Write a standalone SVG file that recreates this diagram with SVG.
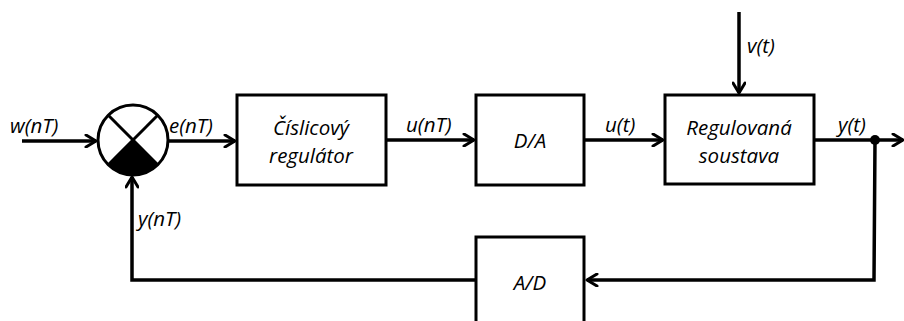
<svg xmlns="http://www.w3.org/2000/svg" width="904" height="321" viewBox="0 0 904 321">
  <style>
    .blk { fill: #fff; stroke: #000; stroke-width: 3; }
    .wire { fill: none; stroke: #000; stroke-width: 3.5; stroke-linejoin: miter; }
    .lbl { font-family: "Open Sans", "Liberation Sans", sans-serif; font-style: italic; font-size: 20.5px; fill: #000; }
    .ctr { text-anchor: middle; }
  </style>
  <defs>
    <marker id="arr" viewBox="0 0 14 14" refX="12" refY="7" markerWidth="14" markerHeight="14" markerUnits="userSpaceOnUse" orient="auto">
      <path d="M2,1 L12,7 L2,13" fill="none" stroke="#000" stroke-width="3" stroke-linecap="round" stroke-linejoin="round"/>
    </marker>
  </defs>

  <!-- signal lines -->
  <g id="connectors">
    <line class="wire" x1="22" y1="141" x2="96" y2="141" marker-end="url(#arr)"/>
    <line class="wire" x1="168" y1="141" x2="235" y2="141" marker-end="url(#arr)"/>
    <line class="wire" x1="386" y1="140" x2="474" y2="140" marker-end="url(#arr)"/>
    <line class="wire" x1="584" y1="140" x2="663" y2="140" marker-end="url(#arr)"/>
    <line class="wire" x1="739" y1="12" x2="739" y2="93" marker-end="url(#arr)"/>
    <line class="wire" x1="814" y1="140" x2="903" y2="140" marker-end="url(#arr)"/>
    <polyline class="wire" points="875,140 874,280 587,280" marker-end="url(#arr)"/>
    <polyline class="wire" points="476,280 132,280 132,177" marker-end="url(#arr)"/>
    <circle cx="875" cy="140" r="5" fill="#000"/>
  </g>

  <g id="sum">
    <circle cx="133" cy="140" r="35" class="blk"/>
    <path d="M133,140 L157.7,164.7 A35,35 0 0 1 108.3,164.7 Z" fill="#000"/>
    <line x1="108.3" y1="115.3" x2="157.7" y2="164.7" stroke="#000" stroke-width="3"/>
    <line x1="157.7" y1="115.3" x2="108.3" y2="164.7" stroke="#000" stroke-width="3"/>
  </g>

  <g id="regulator">
    <rect x="237" y="95" width="149" height="90" class="blk"/>
    <text class="lbl ctr" x="311" y="135">Číslicový</text>
    <text class="lbl ctr" x="311" y="163">regulátor</text>
  </g>

  <g id="da">
    <rect x="476" y="95" width="108" height="90" class="blk"/>
    <text class="lbl ctr" x="530" y="148">D/A</text>
  </g>

  <g id="plant">
    <rect x="665" y="95" width="149" height="89" class="blk"/>
    <text class="lbl ctr" x="739" y="135">Regulovaná</text>
    <text class="lbl ctr" x="739" y="163">soustava</text>
  </g>

  <g id="ad">
    <rect x="476" y="237" width="108" height="100" class="blk"/>
    <text class="lbl ctr" x="530" y="290">A/D</text>
  </g>

  <g id="labels">
    <text class="lbl" x="10" y="133">w(nT)</text>
    <text class="lbl" x="169" y="133">e(nT)</text>
    <text class="lbl" x="406" y="132">u(nT)</text>
    <text class="lbl" x="605" y="132">u(t)</text>
    <text class="lbl" x="747" y="53">v(t)</text>
    <text class="lbl" x="838" y="132">y(t)</text>
    <text class="lbl" x="138" y="226">y(nT)</text>
  </g>
</svg>
